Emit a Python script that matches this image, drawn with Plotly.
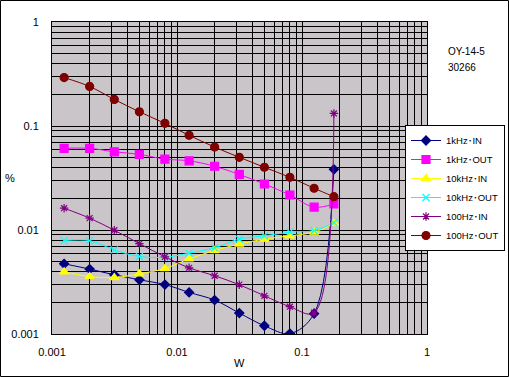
import plotly.graph_objects as go

x_w = [0.00125, 0.002, 0.00315, 0.005, 0.008, 0.0125, 0.02, 0.0315, 0.05, 0.08, 0.125, 0.18]

khz1_in = [0.00473, 0.00421, 0.00371, 0.00332, 0.00299, 0.00251, 0.00212, 0.00159, 0.00120, 0.00101, 0.00157, 0.0383]
khz1_out = [0.061, 0.061, 0.0565, 0.0534, 0.048, 0.0463, 0.041, 0.0342, 0.0277, 0.0217, 0.0166, 0.0178]
khz10_in = [0.00396, 0.00357, 0.00349, 0.00379, 0.00426, 0.00528, 0.00634, 0.00733, 0.00817, 0.00878, 0.00953, 0.0116]
khz10_out = [0.00791, 0.00791, 0.00644, 0.00556, 0.00548, 0.00599, 0.00674, 0.00818, 0.00878, 0.00953, 0.00987, 0.01178]
hz100_in = [0.0162, 0.0130, 0.00995, 0.0074, 0.00552, 0.00433, 0.00363, 0.00298, 0.00233, 0.00183, 0.0016, 0.132]
hz100_out = [0.292, 0.240, 0.180, 0.137, 0.106, 0.0813, 0.0627, 0.050, 0.0401, 0.0321, 0.0252, 0.0209]

series_names = ["1kHz･IN", "1kHz･OUT", "10kHz･IN", "10kHz･OUT", "100Hz･IN", "100Hz･OUT"]
series_vals = [khz1_in, khz1_out, khz10_in, khz10_out, hz100_in, hz100_out]
colors = ["#000080", "#FF00FF", "#FFFF00", "#00FFFF", "#800080", "#800000"]
symbols = ["diamond", "square", "triangle-up", "x-thin-open", "asterisk-open", "circle"]
sizes = [7, 8, 8, 7, 7, 8]

grid_vals = []
for d in [0.001, 0.01, 0.1]:
    for m in range(1, 10):
        grid_vals.append(round(d * m, 6))
grid_vals.append(1)
label_map = {0.001: "0.001", 0.01: "0.01", 0.1: "0.1", 1: "1"}
grid_text = [label_map.get(v, "") for v in grid_vals]

FONT = "Liberation Sans, Arial, Noto Sans CJK JP, sans-serif"

fig = go.Figure()
for name, vals, c, s, sz in zip(series_names, series_vals, colors, symbols, sizes):
    fig.add_trace(go.Scatter(
        x=x_w, y=vals, name=name, mode="lines+markers",
        line=dict(color=c, width=1, shape="spline", smoothing=1),
        marker=dict(symbol=s, size=sz, color=c, line=dict(color=c, width=1.2)),
    ))

W, H = 509, 377
L, R, T, B = 52, 82, 22, 43
pw, ph = W - L - R, H - T - B

axis_common = dict(
    type="log", tickvals=grid_vals, ticktext=grid_text,
    showgrid=True, gridcolor="black", gridwidth=1,
    showline=True, linecolor="black", linewidth=1, mirror=True,
    ticks="", zeroline=False, automargin=False,
    tickfont=dict(family=FONT, size=11, color="black"),
)

fig.update_layout(
    width=W, height=H,
    margin=dict(l=L, r=R, t=T, b=B, pad=0, autoexpand=False),
    paper_bgcolor="white",
    plot_bgcolor="#c9c5c9",
    font=dict(family=FONT, size=11, color="black"),
    xaxis=dict(range=[-3, 0], ticklabelstandoff=8, **axis_common),
    yaxis=dict(range=[-3, 0], ticklabelstandoff=10, **axis_common),
    legend=dict(
        x=405 / W, y=1 - 125 / H, xref="container", yref="container",
        xanchor="left", yanchor="top",
        bgcolor="white", bordercolor="black", borderwidth=1,
        font=dict(family=FONT, size=9.5, color="black"),
        itemwidth=30, tracegroupgap=0,
    ),
    showlegend=True,
    annotations=[
        dict(text="W", xref="paper", yref="paper", x=0.5, y=(H - 363 - B) / ph,
             showarrow=False, xanchor="center", yanchor="middle", font=dict(size=11)),
        dict(text="%", xref="paper", yref="paper", x=(10 - L) / pw, y=0.5,
             showarrow=False, xanchor="center", yanchor="middle", font=dict(size=11)),
        dict(text="OY-14-5", xref="paper", yref="paper", x=(446 - L) / pw, y=(H - 51 - B) / ph,
             showarrow=False, xanchor="left", yanchor="middle", font=dict(size=10)),
        dict(text="30266", xref="paper", yref="paper", x=(446 - L) / pw, y=(H - 67 - B) / ph,
             showarrow=False, xanchor="left", yanchor="middle", font=dict(size=10)),
    ],
    shapes=[
        dict(type="rect", xref="paper", yref="paper",
             x0=(0.5 - L) / pw, x1=(W - 0.5 - L) / pw,
             y0=(0.5 - B) / ph, y1=(H - 0.5 - B) / ph,
             line=dict(color="black", width=1), fillcolor="rgba(0,0,0,0)", layer="above"),
    ],
)

fig.write_html(
    "out.html",
    config={"displayModeBar": False},
    post_script="document.body.style.margin='0';document.body.style.overflow='hidden';",
)
